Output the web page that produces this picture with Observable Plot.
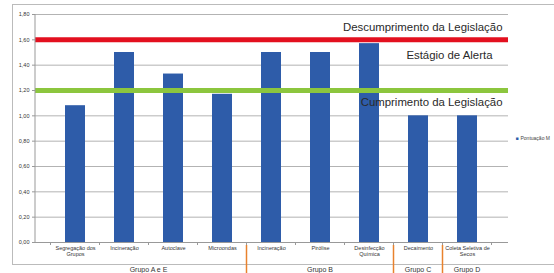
<!DOCTYPE html>
<html><head><meta charset="utf-8">
<script src="https://cdn.jsdelivr.net/npm/d3@7"></script>
<script src="https://cdn.jsdelivr.net/npm/@observablehq/plot@0.6"></script>
<style>
body{margin:0;background:#fff;font-family:"Liberation Sans",Arial,sans-serif;}
</style></head>
<body><div id="chart"></div>
<script>
const categories = ["Segregação dos\nGrupos","Incineração","Autoclave","Microondas","Incineração","Pirólise","Desinfecção\nQuímica","Decaimento","Coleta Seletiva de\nSecos"];
const values = [1.08, 1.50, 1.33, 1.17, 1.50, 1.50, 1.57, 1.00, 1.00];
const groups = ["Grupo A e E","Grupo A e E","Grupo A e E","Grupo A e E","Grupo B","Grupo B","Grupo B","Grupo C","Grupo D"];
const yTicks = [0,0.2,0.4,0.6,0.8,1.0,1.2,1.4,1.6,1.8];
const thresholds = [{v:1.6, color:"#e3101f"},{v:1.2, color:"#8cc63e"}];
const annotations = [
  {text:"Descumprimento da Legislação", y:1.70, dx:-6},
  {text:"Estágio de Alerta", y:1.48, dx:-16},
  {text:"Cumprimento da Legislação", y:1.105, dx:-6}
];
const legendLabel = "Pontuação M";
const legendY = 0.82;

const data = values.map((v,i)=>({i, cat:categories[i], v, g:groups[i]}));
const idx = data.map(d=>d.i);

const plot = Plot.plot({
  width:554, height:273,
  marginLeft:35, marginRight:46, marginTop:14, marginBottom:31,
  style:{fontFamily:"'Liberation Sans',Arial,sans-serif", background:"transparent", overflow:"visible"},
  x:{domain:idx, padding:0.59, label:null},
  y:{domain:[0,1.8], label:null},
  marks:[
    Plot.gridY(yTicks,{stroke:"#a0a0a0", strokeOpacity:1, strokeWidth:0.8}),
    Plot.axisY(yTicks,{tickFormat:d=>d.toFixed(2).replace(".",","), fontSize:5.5, tickSize:3, tickPadding:3, stroke:"#999", fill:"#333"}),
    Plot.axisX(idx,{tickFormat:i=>categories[i], fontSize:5.5, tickSize:0, tickPadding:3, fill:"#333", lineHeight:1.1}),
    Plot.barY(data,{x:"i", y:"v", fill:"#2e5ca9"}),
    Plot.ruleY([0],{stroke:"#999", strokeWidth:1}),
    Plot.ruleY(thresholds,{y:"v", stroke:"color", strokeWidth:5}),
    Plot.text(annotations,{y:"y", text:"text", frameAnchor:"right", textAnchor:"end", fontSize:11.4, fill:"#2a2a2a"}),
    Plot.text([legendLabel],{y:()=>legendY, text:d=>d, frameAnchor:"right", textAnchor:"start", dx:12, fontSize:5, fill:"#444"}),
    Plot.text([legendLabel],{y:()=>legendY, text:()=>"■", frameAnchor:"right", textAnchor:"start", dx:7, fontSize:5, fill:"#2e5ca9"})
  ]
});

const svg = d3.select(plot);
// apply dx per annotation
svg.selectAll("g[aria-label='text']").filter((d,i)=>i===0).selectAll("text")
  .each(function(d,k){ const a = annotations[k]; const t=d3.select(this); const tr=t.attr("transform")||""; t.attr("transform", tr+` translate(${a.dx},0)`); });

const xs = plot.scale("x");
const ys = plot.scale("y");
const x0 = xs.range[0];
const yTop = ys.apply(1.8), yBot = ys.apply(0);
const gap = (xs.step-xs.bandwidth)/2;
// left axis line
svg.append("line").attr("x1",x0).attr("x2",x0).attr("y1",yTop).attr("y2",yBot).attr("stroke","#999");
// x ticks at band boundaries
for(let k=0;k<=categories.length;k++){
  const bx = (k<categories.length? xs.apply(k) - gap : xs.apply(k-1)+xs.bandwidth+gap);
  svg.append("line").attr("x1",bx).attr("x2",bx).attr("y1",yBot).attr("y2",yBot+3).attr("stroke","#999");
}
// outer frame
svg.insert("rect",":first-child").attr("x",12.5).attr("y",4.5).attr("width",560).attr("height",260).attr("fill","none").attr("stroke","#bbb");
// group separators and labels
const gNames = [...new Set(groups)];
gNames.forEach((g,gi)=>{
  const members = data.filter(d=>d.g===g).map(d=>d.i);
  const left = xs.apply(d3.min(members)) - gap;
  const right = xs.apply(d3.max(members)) + xs.bandwidth + gap;
  if(gi>0) svg.append("line").attr("x1",left).attr("x2",left).attr("y1",yBot+3).attr("y2",280).attr("stroke","#e8822d").attr("stroke-width",1.5);
  svg.append("text").attr("x",(left+right)/2).attr("y",yBot+30).attr("text-anchor","middle").attr("font-size",7).attr("fill","#333").text(g);
});
document.getElementById("chart").append(plot);
</script></body></html>
